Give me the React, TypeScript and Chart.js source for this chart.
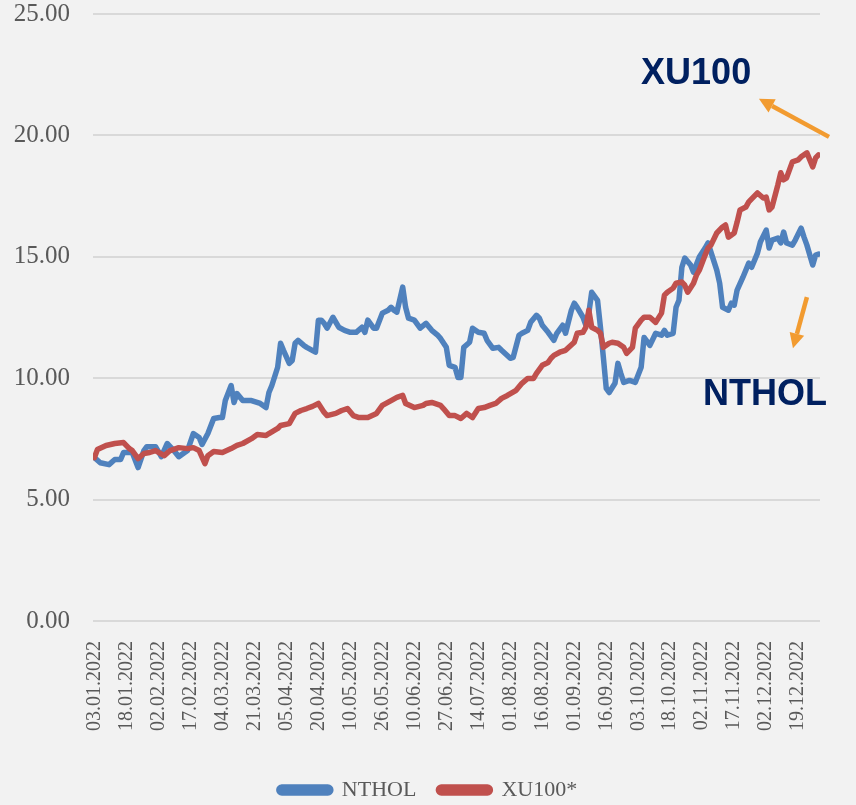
import React, { useEffect, useRef } from "react";
import { Chart, registerables } from "chart.js";

Chart.register(...registerables);

// Tick labels on the category (trading-day) axis, one every 11 trading days
const tickDates = [
  "03.01.2022", "18.01.2022", "02.02.2022", "17.02.2022", "04.03.2022", "21.03.2022",
  "05.04.2022", "20.04.2022", "10.05.2022", "26.05.2022", "10.06.2022", "27.06.2022",
  "14.07.2022", "01.08.2022", "16.08.2022", "01.09.2022", "16.09.2022", "03.10.2022",
  "18.10.2022", "02.11.2022", "17.11.2022", "02.12.2022", "19.12.2022",
];
const tickStep = 11;
const dayCount = 250;

const yTicks = [0, 5, 10, 15, 20, 25];

// NTHOL: trading-day index and value
const nthIdx = [
  0, 2, 5, 7, 9, 10, 13, 15, 17, 18, 21, 23, 25, 27, 29, 32, 34, 36, 37, 39,
  41, 43, 44, 45, 47, 48, 49, 51, 54, 57, 59, 60, 61, 63, 64, 65, 67, 68, 69, 70,
  72, 73, 76, 77, 78, 79, 80, 82, 84, 86, 88, 90, 92, 93, 94, 96, 97, 99, 101, 102,
  103, 104, 106, 107, 108, 110, 112, 114, 116, 118, 119, 121, 122, 124, 125, 126, 127, 129, 130, 132,
  134, 135, 137, 139, 140, 143, 144, 146, 147, 149, 150, 152, 153, 154, 156, 158, 159, 161, 162, 164,
  165, 166, 168, 169, 170, 171, 173, 174, 175, 176, 177, 179, 180, 181, 182, 184, 186, 188, 189, 191,
  193, 195, 196, 197, 199, 200, 201, 202, 203, 205, 206, 208, 210, 211, 212, 214, 215, 216, 218, 219,
  220, 221, 223, 225, 226, 228, 229, 231, 232, 233, 235, 236, 237, 238, 240, 241, 243, 244, 245, 247,
  248, 249,
];
const nthVal = [
  6.73, 6.52, 6.44, 6.65, 6.65, 6.94, 6.94, 6.32, 7.02, 7.18, 7.18, 6.77, 7.31, 7.06, 6.77, 7.02, 7.72, 7.56, 7.27, 7.72,
  8.34, 8.38, 8.38, 9.08, 9.70, 9.00, 9.37, 9.08, 9.08, 8.96, 8.79, 9.41, 9.70, 10.45, 11.44, 11.15, 10.61, 10.73, 11.44, 11.56,
  11.35, 11.27, 11.07, 12.39, 12.39, 12.26, 12.06, 12.51, 12.10, 11.97, 11.89, 11.89, 12.10, 11.89, 12.39, 12.06, 12.06, 12.68, 12.80, 12.92,
  12.80, 12.72, 13.75, 12.92, 12.47, 12.39, 12.06, 12.26, 11.97, 11.77, 11.64, 11.27, 10.53, 10.45, 10.03, 10.03, 11.27, 11.48, 12.06, 11.89,
  11.85, 11.56, 11.23, 11.27, 11.15, 10.82, 10.86, 11.77, 11.85, 11.97, 12.30, 12.59, 12.47, 12.18, 11.89, 11.56, 11.85, 12.18, 11.85, 12.80,
  13.09, 12.92, 12.51, 12.18, 12.68, 13.54, 13.21, 12.10, 10.86, 9.58, 9.41, 9.79, 10.61, 10.20, 9.83, 9.91, 9.83, 10.45, 11.68, 11.35,
  11.85, 11.77, 11.97, 11.77, 11.85, 12.92, 13.21, 14.57, 14.95, 14.66, 14.37, 14.99, 15.36, 15.57, 15.19, 14.45, 13.91, 12.92, 12.80, 13.09,
  13.01, 13.63, 14.16, 14.74, 14.57, 15.15, 15.61, 16.10, 15.36, 15.69, 15.77, 15.57, 16.02, 15.57, 15.48, 15.69, 16.18, 15.81, 15.48, 14.66,
  15.07, 15.11,
];

// XU100*: trading-day index and value
const xuIdx = [
  0, 1, 4, 7, 10, 12, 13, 15, 17, 19, 21, 24, 26, 29, 32, 34, 36, 38, 39, 41,
  44, 47, 49, 51, 54, 56, 59, 60, 63, 64, 67, 69, 71, 73, 75, 77, 79, 80, 83, 85,
  87, 89, 91, 94, 97, 99, 102, 104, 106, 107, 110, 113, 114, 116, 119, 120, 122, 124, 126, 128,
  130, 132, 134, 136, 138, 140, 142, 145, 147, 149, 151, 152, 154, 156, 157, 158, 160, 162, 165, 166,
  168, 169, 170, 171, 173, 174, 175, 177, 178, 180, 182, 183, 185, 186, 188, 189, 191, 193, 195, 196,
  197, 199, 200, 202, 203, 204, 206, 207, 208, 210, 211, 212, 214, 216, 217, 218, 220, 221, 222, 224,
  225, 228, 230, 231, 232, 233, 235, 236, 237, 238, 240, 242, 243, 245, 246, 247, 248, 249,
];
const xuVal = [
  6.73, 7.06, 7.23, 7.31, 7.35, 7.10, 7.02, 6.69, 6.90, 6.94, 7.02, 6.81, 7.02, 7.14, 7.10, 7.14, 7.02, 6.48, 6.81, 6.98,
  6.94, 7.10, 7.23, 7.31, 7.51, 7.68, 7.64, 7.72, 7.93, 8.05, 8.13, 8.55, 8.67, 8.75, 8.84, 8.96, 8.59, 8.46, 8.55, 8.67,
  8.75, 8.46, 8.38, 8.38, 8.55, 8.88, 9.08, 9.21, 9.29, 8.96, 8.79, 8.88, 8.96, 9.00, 8.88, 8.75, 8.46, 8.46, 8.34, 8.55,
  8.38, 8.75, 8.79, 8.88, 8.96, 9.17, 9.29, 9.50, 9.79, 9.99, 9.99, 10.20, 10.53, 10.65, 10.82, 10.94, 11.07, 11.15, 11.48, 11.85,
  11.89, 12.10, 12.80, 12.10, 11.97, 11.85, 11.27, 11.44, 11.48, 11.44, 11.27, 11.02, 11.27, 12.06, 12.39, 12.51, 12.51, 12.30, 12.68, 13.42,
  13.54, 13.71, 13.91, 13.96, 13.83, 13.54, 13.91, 14.24, 14.45, 15.07, 15.36, 15.48, 15.98, 16.23, 16.31, 15.81, 15.98, 16.43, 16.93, 17.05,
  17.26, 17.63, 17.42, 17.46, 16.93, 17.05, 17.96, 18.46, 18.17, 18.25, 18.91, 18.99, 19.12, 19.28, 18.99, 18.70, 19.07, 19.20,
];

const seriesNames = ["NTHOL", "XU100*"];
const calloutNames = ["XU100", "NTHOL"];

const BLUE = "#4F81BD";
const RED = "#C0504D";
const ORANGE = "#F29B30";
const NAVY = "#002060";
const GREY = "#595959";

const calloutPlugin = {
  id: "callouts",
  afterDatasetsDraw(chart: any) {
    const { ctx } = chart;
    const xs = chart.scales.x;
    const ys = chart.scales.y;
    const P = (i: number, v: number) => [xs.getPixelForValue(i), ys.getPixelForValue(v)];
    ctx.save();
    ctx.fillStyle = NAVY;
    ctx.font = "bold 36px 'Liberation Sans', Arial, sans-serif";
    ctx.textAlign = "center";
    ctx.textBaseline = "middle";
    const [t1x, t1y] = P(206.9, 22.54);
    ctx.fillText(calloutNames[0], t1x, t1y);
    const [t2x, t2y] = P(230.6, 9.29);
    ctx.fillText(calloutNames[1], t2x, t2y);

    const arrow = (a: number[], b: number[]) => {
      const [x0, y0] = P(a[0], a[1]);
      const [x1, y1] = P(b[0], b[1]);
      const ang = Math.atan2(y1 - y0, x1 - x0);
      const len = 15;
      const hw = 7.5;
      const bx = x1 - len * Math.cos(ang);
      const by = y1 - len * Math.sin(ang);
      ctx.strokeStyle = ORANGE;
      ctx.fillStyle = ORANGE;
      ctx.lineWidth = 4.5;
      ctx.lineCap = "butt";
      ctx.beginPath();
      ctx.moveTo(x0, y0);
      ctx.lineTo(bx, by);
      ctx.stroke();
      ctx.beginPath();
      ctx.moveTo(x1, y1);
      ctx.lineTo(bx + hw * Math.sin(ang), by - hw * Math.cos(ang));
      ctx.lineTo(bx - hw * Math.sin(ang), by + hw * Math.cos(ang));
      ctx.closePath();
      ctx.fill();
    };
    arrow([252.6, 19.94], [228.5, 21.51]);
    arrow([245.0, 13.34], [240.2, 11.23]);
    ctx.restore();
  },
};

export default function App() {
  const ref = useRef<HTMLCanvasElement | null>(null);
  useEffect(() => {
    if (!ref.current) return;
    const mk = (idx: number[], val: number[]) => idx.map((i, k) => ({ x: i, y: val[k] }));
    const chart = new Chart(ref.current, {
      type: "line",
      data: {
        datasets: [
          {
            label: seriesNames[0],
            data: mk(nthIdx, nthVal),
            borderColor: BLUE,
            backgroundColor: BLUE,
            borderWidth: 5.5,
            pointRadius: 0,
            tension: 0,
            borderJoinStyle: "round",
            borderCapStyle: "round",
            order: 1,
          },
          {
            label: seriesNames[1],
            data: mk(xuIdx, xuVal),
            borderColor: RED,
            backgroundColor: RED,
            borderWidth: 5.5,
            pointRadius: 0,
            tension: 0,
            borderJoinStyle: "round",
            borderCapStyle: "round",
            order: 0,
          },
        ],
      },
      options: {
        responsive: false,
        maintainAspectRatio: false,
        animation: false,
        layout: { padding: { top: 14, left: 0, right: 0, bottom: -6 } },
        plugins: {
          tooltip: { enabled: false },
          legend: {
            position: "bottom",
            labels: {
              boxWidth: 52,
              boxHeight: 6,
              useBorderRadius: true,
              borderRadius: 3,
              padding: 22,
              color: GREY,
              font: { family: "'Liberation Serif', serif", size: 22 },
              sort: (a: any, b: any) => a.datasetIndex - b.datasetIndex,
            },
          },
        },
        scales: {
          x: {
            type: "linear",
            min: -0.5,
            max: dayCount - 0.5,
            grid: { display: false },
            border: { display: false },
            afterBuildTicks: (s: any) => {
              s.ticks = tickDates.map((_, i) => ({ value: i * tickStep }));
            },
            afterFit: (s: any) => {
              s.height = 136;
              s.paddingLeft = 0;
              s.paddingRight = 0;
            },
            ticks: {
              autoSkip: false,
              minRotation: 90,
              maxRotation: 90,
              padding: 12,
              color: GREY,
              font: { family: "'Liberation Serif', serif", size: 20 },
              callback: (_v: any, i: number) => tickDates[i],
            },
          },
          y: {
            min: yTicks[0],
            max: yTicks[yTicks.length - 1],
            afterBuildTicks: (s: any) => {
              s.ticks = yTicks.map((v) => ({ value: v }));
            },
            afterFit: (s: any) => {
              s.width = 93;
              s.paddingTop = 0;
              s.paddingBottom = 0;
            },
            grid: { color: "#D9D9D9", lineWidth: 2, drawTicks: false },
            border: { display: false },
            ticks: {
              padding: 23,
              color: GREY,
              font: { family: "'Liberation Serif', serif", size: 25, lineHeight: 1 },
              callback: (v: any) => Number(v).toFixed(2),
            },
          },
          yRight: {
            position: "right",
            min: 0,
            max: 25,
            grid: { display: false },
            border: { display: false },
            ticks: { display: false },
            afterFit: (s: any) => {
              s.width = 36;
              s.paddingTop = 0;
              s.paddingBottom = 0;
            },
          },
        },
      },
      plugins: [calloutPlugin],
    } as any);
    return () => chart.destroy();
  }, []);
  return (
    <div
      style={{
        position: "fixed",
        left: 0,
        top: 0,
        width: 856,
        height: 805,
        background: "#F2F2F2",
        overflow: "hidden",
      }}
    >
      <canvas ref={ref} width={856} height={805} style={{ display: "block" }} />
    </div>
  );
}
